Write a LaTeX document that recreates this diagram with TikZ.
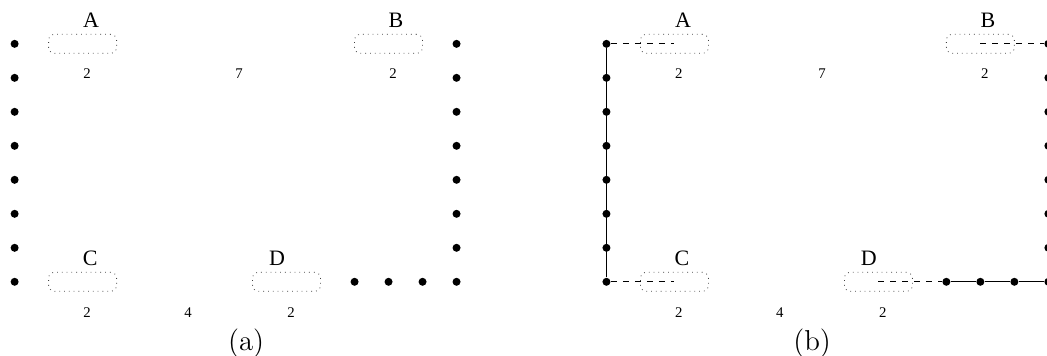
\documentclass[tikz,border=0pt]{standalone}
\usepackage{fontspec}
\newfontfamily\labelfont{Liberation Serif}

\tikzset{
  dot/.style={circle,fill,inner sep=0pt,minimum size=4pt},
  group/.style={draw=black!75,dotted,rounded corners=3pt,minimum width=34pt,minimum height=9.5pt,inner sep=0pt},
  tag/.style={font=\labelfont\fontsize{11}{13}\selectfont,anchor=base,inner sep=0pt},
  num/.style={font=\labelfont\fontsize{7.4}{9}\selectfont,anchor=base,inner sep=0pt},
  capt/.style={font=\Large,anchor=base,inner sep=0pt},
  route/.style={line width=0.6pt}
}

\begin{document}
\begin{tikzpicture}[x=17pt,y=17pt]

      \useasboundingbox (-0.43,1.29) rectangle (30.37,-9.18);

      \foreach \p/\dx/\sx/\cx in {a/0/6.6/6.81,b/17.41/6.34/6.05} {
        \begin{scope}[shift={(\dx,0)}]
          % columns of points
          \foreach \r in {0,...,7} {
            \node[dot] (\p l\r) at (0,-\r) {};
            \node[dot] (\p r\r) at (13,-\r) {};
          }
          \foreach \c in {10,11,12}
            \node[dot] (\p b\c) at (\c,-7) {};

          % groups
          \node[group] (\p A) at (2,0)  {};
          \node[group] (\p B) at (11,0) {};
          \node[group] (\p C) at (2,-7) {};
          \node[group] (\p D) at (8,-7) {};

          \node[tag] (\p nA) at (2.25,0.49)  {A};
          \node[tag] (\p nB) at (11.22,0.49) {B};
          \node[tag] (\p nC) at (2.22,-6.53) {C};
          \node[tag] (\p nD) at (7.72,-6.53) {D};

          \node[num] (\p sA) at (2.13,-1.01)  {2};
          \node[num] (\p sB) at (11.13,-1.01) {2};
          \node[num] (\p sC) at (2.13,-8.04)  {2};
          \node[num] (\p sD) at (8.13,-8.04)  {2};
          \node[num] (\p top) at (\sx,-1.01)  {7};
          \node[num] (\p bot) at (5.1,-8.04)  {4};

          \node[capt] (\p cap) at (\cx,-9.03) {(\p)};
        \end{scope}
      }

      % route in (b)
      \draw[route,dashed] (bl0) -- (bA.center);
      \draw[route] (bl0) -- (bl7);
      \draw[route,dashed] (bl7) -- (bC.center);
      \draw[route,dashed] (bD.center) -- (bb10);
      \draw[route] (bb10) -- (bb11) -- (bb12) -- (br7);
      \draw[route,dashed] (bB.center) -- (br0);

    \end{tikzpicture}
\end{document}
